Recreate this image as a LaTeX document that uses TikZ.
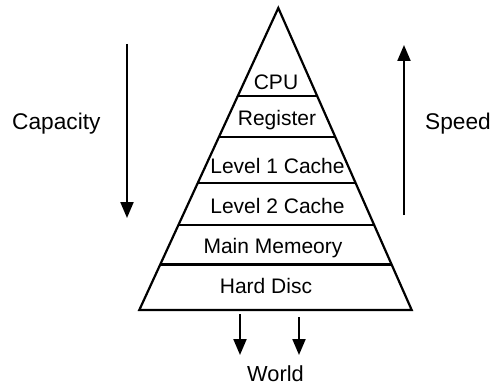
\documentclass[tikz,border=0pt]{standalone}
\usepackage{fontspec}
\setmainfont{Liberation Sans}
\usetikzlibrary{arrows.meta,calc}
\begin{document}
\begin{tikzpicture}[x=1pt,y=-1pt,
  edge/.style={line width=2.2pt},
  flow/.style={line width=2.2pt,-{Triangle[width=13pt,length=16pt]}},
  layer/.style={anchor=base,inner sep=0pt,font=\fontsize{21}{25}\selectfont},
  side/.style={anchor=base west,inner sep=0pt,font=\fontsize{22.7}{27}\selectfont}]
\useasboundingbox (0,0) rectangle (495,385);
% pyramid outline
\coordinate (apex) at (278.3,8);
\coordinate (bl) at (139.3,310);
\coordinate (br) at (411.7,310);
\draw[edge,line join=miter] (apex) -- (bl) -- (br) -- cycle;
% layer boundaries
\foreach \t/\n in {0.2914/1,0.4272/2,0.5805/3,0.7185/4,0.8493/5}{
  \coordinate (l\n) at ($(apex)!\t!(bl)$);
  \coordinate (r\n) at ($(apex)!\t!(br)$);
  \draw[edge] (l\n) -- (r\n);
}
% layer labels
\node[layer] (cpu) at (276,89.5) {CPU};
\node[layer] (reg) at (277,125.5) {Register};
\node[layer] (l1c) at (277.5,173.3) {Level 1 Cache};
\node[layer] (l2c) at (277.5,213.3) {Level 2 Cache};
\node[layer] (mem) at (273,253) {Main Memeory};
\node[layer] (hd) at (266,293) {Hard Disc};
% side scales
\node[side] (cap) at (12,129) {Capacity};
\node[side] (spd) at (425,130) {Speed};
\coordinate (capTop) at (127,44);
\coordinate (capEnd) at (127,218);
\draw[flow] (capTop) -- (capEnd);
\coordinate (spdBot) at (404,215);
\coordinate (spdEnd) at (404,45);
\draw[flow] (spdBot) -- (spdEnd);
% output to the world
\node[anchor=base,inner sep=0pt,font=\fontsize{21.8}{26}\selectfont] (world) at (275.5,381) {World};
\coordinate (o1) at (240,314);
\coordinate (o1end) at (240,355);
\coordinate (o2) at (299,317);
\coordinate (o2end) at (299,355);
\draw[flow] (o1) -- (o1end);
\draw[flow] (o2) -- (o2end);
\end{tikzpicture}
\end{document}
